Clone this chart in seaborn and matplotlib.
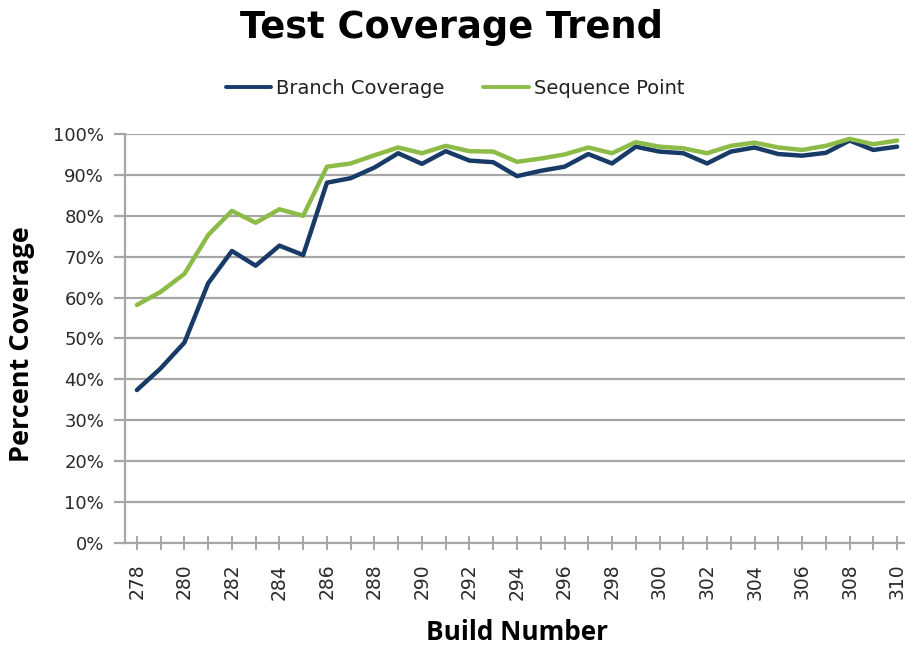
import numpy as np
import pandas as pd
import matplotlib
matplotlib.use("Agg")
import matplotlib.pyplot as plt
import seaborn as sns
from matplotlib.ticker import PercentFormatter, MultipleLocator

# Build numbers and coverage ratios per build
builds = list(range(278, 311))
branch_coverage = [
    0.374, 0.427, 0.490, 0.635, 0.714, 0.678, 0.727, 0.704, 0.881, 0.892,
    0.918, 0.953, 0.927, 0.958, 0.935, 0.931, 0.897, 0.910, 0.920, 0.951,
    0.928, 0.969, 0.957, 0.953, 0.928, 0.957, 0.967, 0.951, 0.947, 0.954,
    0.984, 0.961, 0.969,
]
sequence_point = [
    0.582, 0.614, 0.658, 0.753, 0.812, 0.783, 0.816, 0.800, 0.920, 0.928,
    0.948, 0.967, 0.953, 0.971, 0.958, 0.957, 0.932, 0.940, 0.950, 0.967,
    0.953, 0.980, 0.969, 0.965, 0.953, 0.971, 0.979, 0.967, 0.961, 0.971,
    0.988, 0.975, 0.984,
]
series_names = ["Branch Coverage", "Sequence Point"]
series_colors = ["#173A66", "#8DBB48"]
title_text = "Test Coverage Trend"
x_label = "Build Number"
y_label = "Percent Coverage"

df = pd.DataFrame({
    "Build": builds * 2,
    "Coverage": branch_coverage + sequence_point,
    "Series": [series_names[0]] * len(builds) + [series_names[1]] * len(builds),
})

sns.set_theme(style="white")
plt.rcParams["font.family"] = ["DejaVu Sans"]

W, H = 905, 646
fig = plt.figure(figsize=(W / 100, H / 100), dpi=100)
ax = fig.add_axes([125 / W, (H - 543) / H, (909 - 125) / W, (543 - 134) / H])

sns.lineplot(data=df, x="Build", y="Coverage", hue="Series",
             palette=dict(zip(series_names, series_colors)),
             linewidth=3.2, ax=ax, legend=False, zorder=3)

grid_color = "#A6A6A6"
ax.set_xlim(277.5, 310.5)
ax.set_ylim(0, 1.0)
ax.yaxis.set_major_locator(MultipleLocator(0.1))
ax.yaxis.set_major_formatter(PercentFormatter(1.0, decimals=0))
ax.xaxis.set_major_locator(MultipleLocator(2))
ax.xaxis.set_minor_locator(MultipleLocator(1))
ax.grid(axis="y", color=grid_color, linewidth=1.6, zorder=0)
ax.set_axisbelow(True)

for side in ["top", "right"]:
    ax.spines[side].set_visible(False)
for side in ["left", "bottom"]:
    ax.spines[side].set_color(grid_color)
    ax.spines[side].set_linewidth(1.6)

ax.tick_params(axis="y", which="major", direction="out", length=8, width=1.6,
               color=grid_color, pad=7, labelsize=13, labelcolor="#2A2A2A",
               left=True)
ax.tick_params(axis="x", which="both", direction="inout", length=10, width=1.4,
               color=grid_color, bottom=True)
ax.tick_params(axis="x", which="major", pad=10, labelsize=13.5,
               labelcolor="#2A2A2A", labelrotation=90)

ax.set_xlabel("")
ax.set_ylabel("")

fig.text(451 / W, 1 - 28 / H, title_text, ha="center", va="center",
         fontsize=26.5, fontweight="bold", color="black")
fig.text(517 / W, 1 - 632 / H, x_label, ha="center", va="center",
         fontsize=18.8, fontweight="bold", color="black", family="Open Sans")
fig.text(22 / W, 1 - 344 / H, y_label, ha="center", va="center",
         rotation=90, fontsize=19.5, fontweight="bold", color="black",
         family="Open Sans")

handles = [plt.Line2D([], [], color=c, linewidth=2.8) for c in series_colors]
fig.legend(handles, series_names, loc="center", ncol=2,
           bbox_to_anchor=(455 / W, 1 - 88 / H), frameon=False,
           fontsize=14, handlelength=2.35, handletextpad=0.25,
           columnspacing=2.0, labelcolor="#222222")

fig.savefig("out.png", dpi=100)
